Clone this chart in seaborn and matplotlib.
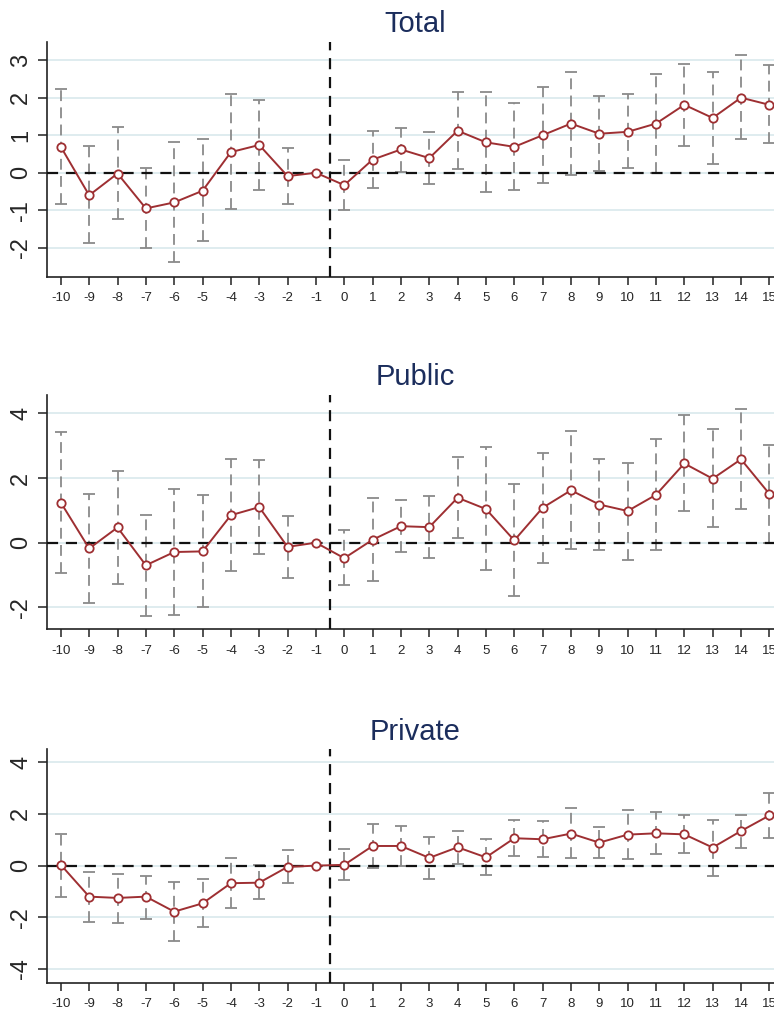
import numpy as np
import pandas as pd
import matplotlib
matplotlib.use("Agg")
import matplotlib.pyplot as plt
import seaborn as sns

# Event time relative to treatment
event_time = list(range(-10, 16))

# Total
total_coef = [0.69, -0.60, -0.02, -0.95, -0.79, -0.48, 0.55, 0.74, -0.09, 0.0, -0.33, 0.35,
              0.62, 0.39, 1.12, 0.81, 0.69, 1.00, 1.31, 1.04, 1.09, 1.31, 1.81, 1.46, 2.00, 1.81]
total_hi = [2.22, 0.70, 1.21, 0.13, 0.83, 0.89, 2.09, 1.94, 0.66, np.nan, 0.34, 1.11,
            1.20, 1.08, 2.16, 2.14, 1.87, 2.28, 2.68, 2.04, 2.09, 2.64, 2.91, 2.68, 3.14, 2.87]
total_lo = [-0.82, -1.88, -1.24, -2.00, -2.38, -1.83, -0.96, -0.45, -0.84, np.nan, -0.98, -0.40,
            0.01, -0.29, 0.11, -0.50, -0.46, -0.28, -0.05, 0.04, 0.12, -0.01, 0.72, 0.23, 0.89, 0.78]

# Public
public_coef = [1.24, -0.18, 0.47, -0.70, -0.29, -0.27, 0.85, 1.10, -0.13, 0.0, -0.48, 0.09,
               0.51, 0.48, 1.39, 1.04, 0.07, 1.08, 1.62, 1.18, 0.98, 1.48, 2.45, 1.98, 2.58, 1.51]
public_hi = [3.41, 1.51, 2.23, 0.85, 1.67, 1.48, 2.58, 2.56, 0.82, np.nan, 0.38, 1.37,
             1.31, 1.43, 2.64, 2.95, 1.80, 2.77, 3.45, 2.60, 2.48, 3.22, 3.95, 3.51, 4.13, 3.02]
public_lo = [-0.93, -1.86, -1.28, -2.26, -2.24, -2.00, -0.89, -0.34, -1.10, np.nan, -1.32, -1.18,
             -0.30, -0.46, 0.15, -0.86, -1.65, -0.62, -0.21, -0.24, -0.53, -0.24, 0.98, 0.47, 1.04, 0.00]

# Private
private_coef = [0.03, -1.20, -1.25, -1.20, -1.78, -1.46, -0.68, -0.66, -0.05, 0.0, 0.03, 0.76,
                0.76, 0.30, 0.71, 0.32, 1.06, 1.02, 1.24, 0.89, 1.20, 1.25, 1.21, 0.70, 1.34, 1.94]
private_hi = [1.24, -0.26, -0.32, -0.39, -0.65, -0.53, 0.30, 0.01, 0.59, np.nan, 0.66, 1.60,
              1.52, 1.12, 1.35, 1.02, 1.77, 1.73, 2.22, 1.51, 2.17, 2.08, 1.95, 1.78, 1.97, 2.80]
private_lo = [-1.20, -2.18, -2.21, -2.05, -2.93, -2.39, -1.63, -1.29, -0.67, np.nan, -0.57, -0.08,
              0.00, -0.52, 0.08, -0.36, 0.36, 0.32, 0.28, 0.28, 0.26, 0.46, 0.49, -0.40, 0.70, 1.08]

titles = ["Total", "Public", "Private"]
y_ticks = [[-2, -1, 0, 1, 2, 3], [-2, 0, 2, 4], [-4, -2, 0, 2, 4]]
y_limits = [(-2.77, 3.49), (-2.68, 4.57), (-4.53, 4.50)]

panels = [
    (total_coef, total_lo, total_hi),
    (public_coef, public_lo, public_hi),
    (private_coef, private_lo, private_hi),
]

sns.set_theme(style="white")
plt.rcParams["font.family"] = ["Liberation Sans", "DejaVu Sans"]

LINE_RED = "#9e2f32"
CI_GREY = "#8a8a8a"
GRID = "#dcebee"
NAVY = "#1b2d5c"

fig = plt.figure(figsize=(7.74, 10.13), dpi=100)
axes_boxes = [
    [0.0603, 0.7268, 0.952, 0.2320],
    [0.0603, 0.3788, 0.952, 0.2313],
    [0.0603, 0.0299, 0.952, 0.2304],
]

for box, title, (coef, lo, hi), yt, yl in zip(axes_boxes, titles, panels, y_ticks, y_limits):
    ax = fig.add_axes(box)
    df = pd.DataFrame({"event": event_time, "coef": coef, "lo": lo, "hi": hi})

    # horizontal reference gridlines
    for v in yt:
        ax.axhline(v, color=GRID, lw=1.3, zorder=0)

    # confidence intervals: dashed grey spikes with caps
    eb = ax.errorbar(df["event"], df["coef"],
                     yerr=[df["coef"] - df["lo"], df["hi"] - df["coef"]],
                     fmt="none", ecolor=CI_GREY, elinewidth=1.3, capsize=4,
                     capthick=1.3, zorder=2)
    for col in eb[2]:
        col.set_linestyle((0, (6, 3.5)))

    # zero line and treatment line
    ax.axhline(0, color="#111111", lw=1.6, ls=(0, (5, 3.5)), zorder=3)
    ax.axvline(-0.5, color="#111111", lw=1.6, ls=(0, (5, 3.5)), zorder=3)

    sns.lineplot(data=df, x="event", y="coef", ax=ax, color=LINE_RED, lw=1.4,
                 marker="o", markersize=6, markerfacecolor="white",
                 markeredgecolor=LINE_RED, markeredgewidth=1.3, zorder=4)

    ax.set_xlim(-10.5, 15.5)
    ax.set_ylim(*yl)
    ax.set_xticks(event_time)
    ax.set_xticklabels([str(v) for v in event_time])
    ax.set_yticks(yt)
    ax.set_yticklabels([str(v) for v in yt], rotation=90, va="center")
    ax.set_xlabel("")
    ax.set_ylabel("")
    ax.grid(False)

    for side in ("top", "right"):
        ax.spines[side].set_visible(False)
    for side in ("left", "bottom"):
        ax.spines[side].set_color("#222222")
        ax.spines[side].set_linewidth(1.2)

    ax.tick_params(axis="x", direction="out", length=6, width=1.1, color="#222222",
                   labelsize=9.5, pad=5, bottom=True)
    ax.tick_params(axis="y", direction="out", length=6.5, width=1.1, color="#222222",
                   labelsize=17, pad=4, left=True)

    ax.set_title(title, fontsize=21, color=NAVY, pad=7)

fig.savefig("out.png", dpi=100, facecolor="white")
